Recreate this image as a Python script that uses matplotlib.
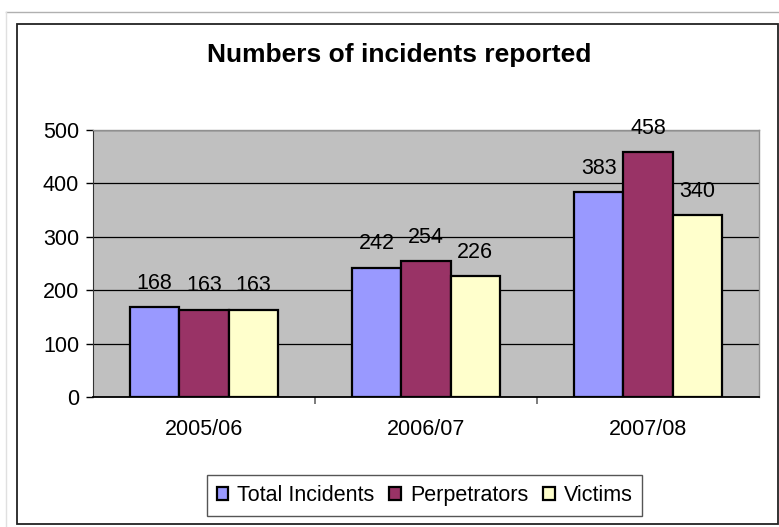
import numpy as np
import matplotlib.pyplot as plt
from matplotlib.patches import Rectangle
from matplotlib.lines import Line2D

plt.rcParams['font.family'] = ['Liberation Sans', 'DejaVu Sans']

# data
years = ['2005/06', '2006/07', '2007/08']
total_incidents = [168, 242, 383]
perpetrators = [163, 254, 458]
victims = [163, 226, 340]

series = [('Total Incidents', total_incidents, '#9999FF'),
          ('Perpetrators', perpetrators, '#993366'),
          ('Victims', victims, '#FFFFCC')]

W, H = 779, 527
fs = 15.5
fig = plt.figure(figsize=(W / 100, H / 100), dpi=100)

# page decorations: faint page edge and black chart border
fig.add_artist(Line2D([6 / W, 1], [1 - 12 / H, 1 - 12 / H], color='#b0b0b0', lw=1))
fig.add_artist(Line2D([6 / W, 6 / W], [0, 1 - 12 / H], color='#e0e0e0', lw=1))
fig.add_artist(Rectangle((17 / W, 3 / H), 761 / W, 500 / H, fill=False,
                         edgecolor='#222222', lw=1.3, transform=fig.transFigure))

ax = fig.add_axes([93 / W, 130 / H, 666 / W, 267 / H])
ax.set_facecolor('#C0C0C0')

x = np.arange(len(years))
w = 0.222
for i, (name, vals, col) in enumerate(series):
    pos = x + (i - 1) * w
    ax.bar(pos, vals, width=w, color=col, edgecolor='black', linewidth=1.6,
           label=name, zorder=3)
    for px, v in zip(pos, vals):
        ax.annotate(str(v), (px, v), xytext=(0, 13.5), textcoords='offset points',
                    ha='center', va='baseline', fontsize=fs, zorder=4)

ax.set_xlim(-0.5, 2.5)
ax.set_ylim(0, 500)
ax.set_yticks(range(0, 501, 100))
ax.yaxis.grid(True, color='black', lw=0.9)
ax.set_axisbelow(True)
ax.tick_params(axis='y', labelsize=fs, length=5, width=1, pad=5, colors='black')

ax.set_xticks(x)
ax.set_xticklabels(years)
ax.set_xticks([0.5, 1.5], minor=True)
ax.tick_params(axis='x', which='major', length=0, labelsize=fs, pad=16)
ax.tick_params(axis='x', which='minor', length=5, width=1.2, color='#666666')

for s in ['top', 'right']:
    ax.spines[s].set_color('#909090')
    ax.spines[s].set_linewidth(1)
ax.spines['left'].set_color('#333333')
ax.spines['bottom'].set_color('black')
ax.spines['bottom'].set_linewidth(1.3)
ax.spines['bottom'].set_zorder(5)

fig.text(399 / W, 1 - 55 / H, 'Numbers of incidents reported', ha='center', va='center',
         fontsize=19, fontweight='bold')

leg = fig.legend(loc='center', bbox_to_anchor=(424.5 / W, 1 - 495.5 / H), ncol=3,
                 fontsize=fs, frameon=True, fancybox=False, edgecolor='#555555',
                 handlelength=0.55, handleheight=0.55, handletextpad=0.4,
                 columnspacing=0.7, borderpad=0.45, framealpha=1)
leg.get_frame().set_linewidth(1)

fig.savefig('out.png', dpi=100)
